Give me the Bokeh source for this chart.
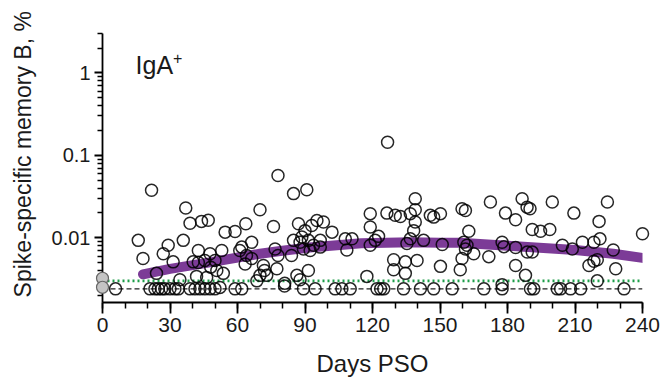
from bokeh.plotting import figure
from bokeh.models import Range1d, FixedTicker, CustomJSTickFormatter, Label, Span
from bokeh.core.properties import value
from bokeh.embed import file_html
from bokeh.resources import INLINE
import math

FONT = "Liberation Sans"

# Detectable responses (days post symptom onset, % spike-specific IgA+ memory B)
days_above = [21.8, 37, 38.9, 44, 47, 70, 76, 54.5, 58.9, 63.7, 15.9, 18, 24, 27, 29.2,
              31.4, 35.9, 34.4, 40.3, 42.6, 42.6, 41.8, 45.5, 47.8, 48.1, 46.3, 50, 50.8,
              53, 53.7, 52.2, 61, 61.9, 64, 66.3, 66.3, 63.4, 71.5, 73, 68.6, 76.7, 77.5,
              78, 84.9, 90.8, 87.1, 90, 95.3, 98.2, 93, 102, 88.6, 84.9, 87.8, 91.5, 96.8,
              93.8, 96.8, 89.3, 92.3, 107.9, 110.9, 108.6, 119, 119, 119, 121.2, 122.7,
              126.4, 130.1, 132.4, 136.8, 139, 139, 139, 138.3, 136.8, 135.3, 145.7, 147.2,
              150.2, 142.7, 151, 129.4, 129.4, 134.6, 134.6, 139.8, 150.2, 117.5, 72, 84,
              86.4, 87.8, 91.5, 81, 78, 126.7, 70,
              159.8, 161.3, 172.4, 179.1, 183.6, 186.5, 188.7, 190, 199.9, 209.5, 224.4,
              220.7, 191, 194.7, 198.8, 162.8, 240, 160.6, 162, 161.3, 165, 159.8, 159,
              177.6, 178.4, 183.6, 188.8, 191, 171.7, 183.6, 188, 177.6, 204.4, 208.8,
              213.3, 218.4, 221.1, 227, 216.2, 218.4, 219.9, 228.1, 219.9, 80.9]
vals_above = [0.0376, 0.023, 0.015, 0.0158, 0.0163, 0.0219, 0.0137, 0.0117, 0.0119, 0.0148,
              0.0093, 0.0056, 0.0037, 0.0064, 0.0081, 0.0051, 0.0093, 0.0031, 0.0051, 0.0070,
              0.0050, 0.0034, 0.0053, 0.0064, 0.0044, 0.0033, 0.0053, 0.0040, 0.0070, 0.0037,
              0.0025, 0.0070, 0.0077, 0.0061, 0.0088, 0.0056, 0.0048, 0.0046, 0.0035, 0.0030,
              0.0073, 0.0042, 0.057, 0.0343, 0.0383, 0.0148, 0.0122, 0.0162, 0.0155, 0.0141,
              0.0117, 0.0102, 0.0093, 0.0088, 0.0093, 0.0093, 0.0081, 0.0077, 0.0073, 0.0070,
              0.0097, 0.0097, 0.0071, 0.0196, 0.0135, 0.0081, 0.0093, 0.0104, 0.0199, 0.0187,
              0.0181, 0.0196, 0.0298, 0.0219, 0.0155, 0.0122, 0.0097, 0.0085, 0.0187, 0.0178,
              0.0196, 0.0093, 0.0083, 0.0054, 0.0041, 0.0051, 0.0037, 0.0053, 0.0045, 0.0034,
              0.0040, 0.0061, 0.0035, 0.0031, 0.0040, 0.0028, 0.0061, 0.144, 0.0035,
              0.0225, 0.0214, 0.0271, 0.0199, 0.0165, 0.0298, 0.0235, 0.0225, 0.0271, 0.0199,
              0.0271, 0.0158, 0.0126, 0.0120, 0.0126, 0.0120, 0.0112, 0.0088, 0.0081, 0.0073,
              0.0064, 0.0056, 0.0041, 0.0088, 0.0078, 0.0076, 0.0067, 0.0067, 0.0059, 0.0046,
              0.0035, 0.0027, 0.0081, 0.0073, 0.0088, 0.0088, 0.0097, 0.0071, 0.0046, 0.0052,
              0.0054, 0.0042, 0.0030, 0.0026]

# Samples at the limit of detection
days_lod = [5.8, 21.1, 23.3, 24.8, 26.3, 27.7, 30, 32.2, 33.7, 38.9, 41.1, 43.3, 45.5, 47.8,
            50, 58.9, 61.9, 89.3, 94.5, 103.4, 106.4, 110.1, 122, 123.6, 125, 133.8, 141.3,
            147.2, 155.4, 169.5, 177.6, 190.2, 191.7, 202.1, 203.6, 208, 212.5, 231.8]
LOD = 0.0024
THRESHOLD = 0.003

# Pre-pandemic / baseline controls (day 0)
baseline_days = [0, 0]
baseline_vals = [0.00323, 0.00251]

# Fitted trend
trend_days = [18, 30, 49, 70, 79, 92, 115, 137, 150, 159, 180, 210, 227, 240]
trend_vals = [0.0036, 0.0042, 0.0051, 0.0064, 0.0069, 0.0076, 0.0086, 0.0088, 0.0087,
              0.0087, 0.0080, 0.0071, 0.0064, 0.0057]

x_ticks = [0, 30, 60, 90, 120, 150, 180, 210, 240]
x_minor = list(range(0, 241, 10))
y_ticks = [0.01, 0.1, 1]
y_minor = [m * 10.0 ** e for e in (-3, -2, -1) for m in range(2, 10)] + [2, 3]
y_title = "Spike-specific memory B, %"

p = figure(width=661, height=384, y_axis_type="log",
           x_range=Range1d(0, 240), y_range=Range1d(0.00164, 3.0),
           output_backend="svg", toolbar_location=None,
           min_border_left=102, min_border_right=19, min_border_top=33,
           min_border_bottom=82)
p.outline_line_color = None
p.grid.visible = False
p.background_fill_color = "white"
p.border_fill_color = "white"

# reference lines
p.add_layout(Span(location=THRESHOLD, dimension="width", line_color="#1E9E4A",
                  line_width=2.6, line_dash="2 3"))
p.add_layout(Span(location=LOD, dimension="width", line_color="#222222",
                  line_width=1.1, line_dash="5 3"))

p.line(trend_days, trend_vals, line_width=10, line_color="#7C3B97", line_cap="round")

circ = dict(size=12, fill_color=None, line_color="black", line_width=1.5, line_alpha=0.85,
            level="overlay")
p.scatter(days_above, vals_above, **circ)
p.scatter(days_lod, [LOD] * len(days_lod), **circ)
p.scatter(baseline_days, baseline_vals, size=12, fill_color="#c4c4c4",
          line_color="#666666", line_width=1.2, level="overlay")

# axes
xa = p.xaxis[0]
xa.ticker = FixedTicker(ticks=x_ticks, minor_ticks=x_minor)
xa.axis_label = "Days PSO"
xa.major_tick_out = 11
xa.minor_tick_out = 6
xa.major_tick_in = 0
xa.minor_tick_in = 0
xa.major_label_standoff = 4
xa.axis_label_standoff = 15

ya = p.yaxis[0]
ya.ticker = FixedTicker(ticks=y_ticks, minor_ticks=y_minor)
ya.formatter = CustomJSTickFormatter(code="return String(tick);")
ya.major_tick_out = 8
ya.minor_tick_out = 5
ya.major_tick_in = 0
ya.minor_tick_in = 0
ya.major_label_standoff = 4

for ax in (xa, ya):
    ax.axis_line_width = 1.8
    ax.axis_line_color = "black"
    ax.major_tick_line_width = 1.8
    ax.minor_tick_line_width = 1.5
    ax.major_tick_line_color = "black"
    ax.minor_tick_line_color = "black"
    ax.major_label_text_font = FONT
    ax.major_label_text_color = "#1a1a1a"
    ax.axis_label_text_font = FONT
    ax.axis_label_text_font_style = "normal"
    ax.axis_label_text_color = "#1a1a1a"
xa.major_label_text_font_size = "21px"
ya.major_label_text_font_size = "20px"
xa.axis_label_text_font_size = "24px"

# y-axis title, drawn as an unclipped text glyph left of the tick labels
p.text(x=[-35.5], y=[0.103], text=[y_title], angle=math.pi / 2,
       text_font=value(FONT), text_font_size="23px", text_color="#1a1a1a",
       text_align="center", text_baseline="middle", level="overlay")

p.add_layout(Label(x=14.7, y=1.24, text="IgA", text_font=FONT, text_font_size="25px",
                   text_color="#1a1a1a", text_baseline="alphabetic"))
p.add_layout(Label(x=31.3, y=1.51, text="+", text_font=FONT, text_font_size="16px",
                   text_color="#1a1a1a", text_baseline="alphabetic"))

open("out.html", "w").write(file_html(p, INLINE))
